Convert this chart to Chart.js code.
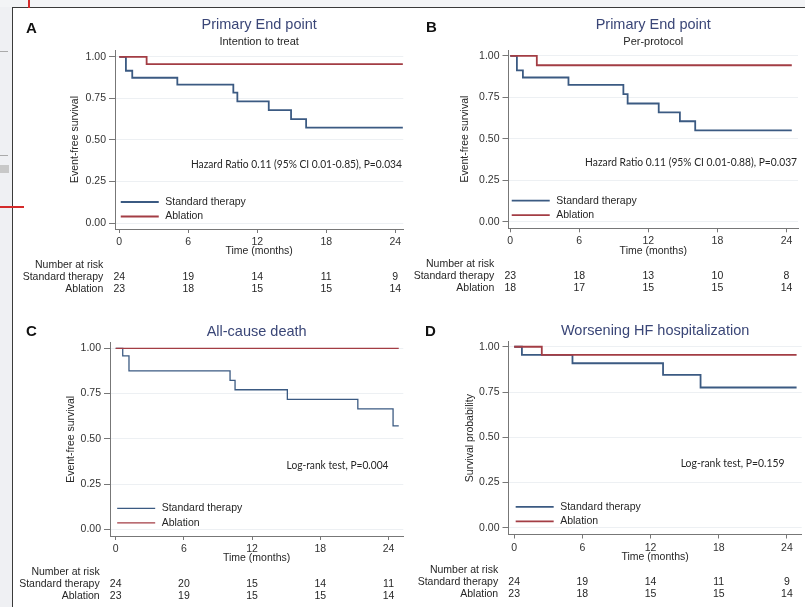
<!DOCTYPE html>
<html>
<head>
<meta charset="utf-8">
<script src="https://cdn.jsdelivr.net/npm/chart.js@4.4.1/dist/chart.umd.min.js"></script>
<style>
  body { margin: 0; background: #fff; width: 805px; height: 607px; overflow: hidden; position: relative; }
  canvas { position: absolute; left: 0; top: 0; }
  .deco { position: absolute; }
</style>
</head>
<body>
<!-- bits of the page the figure was cut from -->
<div class="deco" style="left:0;top:0;width:12px;height:607px;background:#eff0f3"></div>
<div class="deco" style="left:0;top:0;width:805px;height:7px;background:#f3f4f6"></div>
<div class="deco" style="left:12px;top:7px;width:793px;height:600px;border-left:1.5px solid #3a3a3a;border-top:1.5px solid #3a3a3a"></div>
<div class="deco" style="left:28px;top:0;width:2px;height:8px;background:#d42a2a"></div>
<div class="deco" style="left:0;top:206px;width:24px;height:1.5px;background:#d42a2a"></div>
<div class="deco" style="left:0;top:51px;width:8px;height:1px;background:#aaa"></div>
<div class="deco" style="left:0;top:155px;width:8px;height:1px;background:#aaa"></div>
<div class="deco" style="left:0;top:165px;width:9px;height:8px;background:#c8c8c8"></div>

<canvas id="cA" width="805" height="607"></canvas>
<canvas id="cB" width="805" height="607"></canvas>
<canvas id="cC" width="805" height="607"></canvas>
<canvas id="cD" width="805" height="607"></canvas>

<script>
// axis ticks
const months = [0, 6, 12, 18, 24];
const survTicks = [0, 0.25, 0.5, 0.75, 1];
const groups = ['Standard therapy', 'Ablation'];

// A - primary end point, intention to treat
const aStdTime = [0, 0.58, 1.13, 5.05, 9.92, 10.27, 13.0, 14.94, 16.25, 24.66];
const aStdSurv = [1, 0.917, 0.875, 0.833, 0.785, 0.733, 0.680, 0.626, 0.574, 0.574];
const aAblTime = [0, 2.38, 24.66];
const aAblSurv = [1, 0.957, 0.957];
const aRiskStd = [24, 19, 14, 11, 9];
const aRiskAbl = [23, 18, 15, 15, 14];

// B - primary end point, per-protocol
const bStdTime = [0, 0.58, 1.1, 5.06, 9.83, 10.2, 12.9, 14.74, 16.07, 24.46];
const bStdSurv = [1, 0.913, 0.870, 0.826, 0.770, 0.713, 0.660, 0.606, 0.551, 0.551];
const bAblTime = [0, 2.31, 24.46];
const bAblSurv = [1, 0.944, 0.944];
const bRiskStd = [23, 18, 13, 10, 8];
const bRiskAbl = [18, 17, 15, 15, 14];

// C - all-cause death
const cStdTime = [0, 0.62, 1.17, 10.06, 10.5, 15.1, 21.3, 24.4, 24.9];
const cStdSurv = [1, 0.958, 0.875, 0.823, 0.771, 0.718, 0.665, 0.571, 0.571];
const cAblTime = [0, 24.9];
const cAblSurv = [1, 1];
const cRiskStd = [24, 20, 15, 14, 11];
const cRiskAbl = [23, 19, 15, 15, 14];

// D - worsening HF hospitalization
const dStdTime = [0, 0.68, 5.13, 13.1, 16.4, 24.85];
const dStdSurv = [1, 0.955, 0.909, 0.845, 0.775, 0.775];
const dAblTime = [0, 2.43, 24.85];
const dAblSurv = [1, 0.955, 0.955];
const dRiskStd = [24, 19, 14, 11, 9];
const dRiskAbl = [23, 18, 15, 15, 14];

const BLUE = '#3b5a82';
const RED = '#a33d44';
const TITLE = '#3a4677';
const INK = '#262626';
const AXIS = '#777';
const FONT = '"Liberation Sans", Arial, sans-serif';

const panels = [
  { id: 'cA', letter: 'A', title: 'Primary End point', subtitle: 'Intention to treat',
    yTitle: 'Event-free survival', note: 'Hazard Ratio 0.11 (95% CI 0.01-0.85), P=0.034',
    std: [aStdTime, aStdSurv], abl: [aAblTime, aAblSurv], risk: [aRiskStd, aRiskAbl],
    box: { left: 115, right: 403.3, top: 50, bottom: 229 }, xr: [-0.37, 24.7], yr: [-0.036, 1.042],
    letterXY: [26, 29], titleY: 25, subY: 42, yTitleX: 75, noteX: 24.58, noteW: 211, lw: 1.8 },
  { id: 'cB', letter: 'B', title: 'Primary End point', subtitle: 'Per-protocol',
    yTitle: 'Event-free survival', note: 'Hazard Ratio 0.11 (95% CI 0.01-0.88), P=0.037',
    std: [bStdTime, bStdSurv], abl: [bAblTime, bAblSurv], risk: [bRiskStd, bRiskAbl],
    box: { left: 508.5, right: 798, top: 50, bottom: 228.3 }, xr: [-0.15, 25.0], yr: [-0.04, 1.036],
    letterXY: [426, 28], titleY: 25, subY: 42, yTitleX: 465, noteX: 24.92, noteW: 212, lw: 1.8 },
  { id: 'cC', letter: 'C', title: 'All-cause death', subtitle: null,
    yTitle: 'Event-free survival', note: 'Log-rank test, P=0.004',
    std: [cStdTime, cStdSurv], abl: [cAblTime, cAblSurv], risk: [cRiskStd, cRiskAbl],
    box: { left: 110, right: 403.3, top: 342.7, bottom: 536 }, xr: [-0.5, 25.3], yr: [-0.037, 1.031],
    letterXY: [26, 332], titleY: 331.5, subY: 0, yTitleX: 71, noteX: 24.0, noteW: 102, lw: 1.3 },
  { id: 'cD', letter: 'D', title: 'Worsening HF hospitalization', subtitle: null,
    yTitle: 'Survival probability', note: 'Log-rank test, P=0.159',
    std: [dStdTime, dStdSurv], abl: [dAblTime, dAblSurv], risk: [dRiskStd, dRiskAbl],
    box: { left: 508.5, right: 801.7, top: 341.7, bottom: 534.5 }, xr: [-0.5, 25.3], yr: [-0.037, 1.028],
    letterXY: [425, 331.5], titleY: 330.5, subY: 0, yTitleX: 470, noteX: 23.8, noteW: 104, lw: 1.8 }
];

function makeDecor(p) {
  return {
    id: 'decor',
    afterDraw(chart) {
      const ctx = chart.ctx, xs = chart.scales.x, ys = chart.scales.y, a = chart.chartArea;
      const cx = (a.left + a.right) / 2;
      ctx.save();
      ctx.textBaseline = 'middle';

      // panel letter
      ctx.fillStyle = '#111';
      ctx.font = 'bold 15px ' + FONT;
      ctx.textAlign = 'left';
      ctx.fillText(p.letter, p.letterXY[0], p.letterXY[1]);

      // titles
      ctx.textAlign = 'center';
      ctx.fillStyle = TITLE;
      ctx.font = '14.5px ' + FONT;
      ctx.fillText(p.title, cx, p.titleY);
      if (p.subtitle) {
        ctx.fillStyle = INK;
        ctx.font = '11px ' + FONT;
        ctx.fillText(p.subtitle, cx, p.subY);
      }

      // axis titles
      ctx.fillStyle = INK;
      ctx.font = '10.5px ' + FONT;
      ctx.fillText('Time (months)', cx, a.bottom + 22.5);
      ctx.save();
      ctx.translate(p.yTitleX, (a.top + a.bottom) / 2);
      ctx.rotate(-Math.PI / 2);
      ctx.fillText(p.yTitle, 0, 0);
      ctx.restore();

      // test result
      ctx.textAlign = 'right';
      ctx.font = '11px Lato, ' + FONT;
      ctx.fillText(p.note, xs.getPixelForValue(p.noteX), ys.getPixelForValue(0.355), p.noteW);

      // legend inside plot
      const x0 = xs.getPixelForValue(0);
      const y0 = ys.getPixelForValue(0);
      const cols = [BLUE, RED];
      ctx.font = '10.5px ' + FONT;
      ctx.textAlign = 'left';
      [-21, -6.5].forEach((dy, i) => {
        ctx.strokeStyle = cols[i];
        ctx.lineWidth = p.lw;
        ctx.beginPath();
        ctx.moveTo(x0 + 1.5, y0 + dy);
        ctx.lineTo(x0 + 39.5, y0 + dy);
        ctx.stroke();
        ctx.fillStyle = INK;
        ctx.fillText(groups[i], x0 + 46, y0 + dy);
      });

      // number at risk table
      ctx.textAlign = 'right';
      ctx.fillText('Number at risk', x0 - 16, a.bottom + 36);
      ctx.fillText(groups[0], x0 - 16, a.bottom + 48);
      ctx.fillText(groups[1], x0 - 16, a.bottom + 60);
      ctx.textAlign = 'center';
      months.forEach((m, i) => {
        const px = xs.getPixelForValue(m);
        ctx.fillText(String(p.risk[0][i]), px, a.bottom + 48);
        ctx.fillText(String(p.risk[1][i]), px, a.bottom + 60);
      });
      ctx.restore();
    }
  };
}

function toPoints(pair) {
  return pair[0].map((t, i) => ({ x: t, y: pair[1][i] }));
}

panels.forEach(p => {
  const b = p.box;
  new Chart(document.getElementById(p.id), {
    type: 'line',
    data: {
      datasets: [
        { label: groups[1], data: toPoints(p.abl), borderColor: RED, borderWidth: p.lw,
          stepped: 'before', pointRadius: 0, fill: false },
        { label: groups[0], data: toPoints(p.std), borderColor: BLUE, borderWidth: p.lw,
          stepped: 'before', pointRadius: 0, fill: false }
      ]
    },
    options: {
      responsive: false,
      animation: false,
      events: [],
      layout: { padding: { left: b.left - 40, right: 805 - b.right, top: b.top, bottom: 607 - b.bottom - 30 } },
      plugins: { legend: { display: false }, tooltip: { enabled: false }, title: { display: false } },
      scales: {
        x: {
          type: 'linear', min: p.xr[0], max: p.xr[1],
          afterFit: s => { s.height = 30; },
          afterBuildTicks: s => { s.ticks = months.map(v => ({ value: v })); },
          grid: { drawOnChartArea: false, tickLength: 4, color: AXIS },
          border: { color: AXIS, width: 1 },
          ticks: { color: '#333', font: { family: FONT, size: 10.5 }, padding: 3, maxRotation: 0, autoSkip: false }
        },
        y: {
          min: p.yr[0], max: p.yr[1],
          afterFit: s => { s.width = 40; },
          afterBuildTicks: s => { s.ticks = survTicks.map(v => ({ value: v })); },
          grid: { color: '#edf0f3', tickColor: AXIS, tickLength: 6 },
          border: { color: AXIS, width: 1 },
          ticks: { color: '#333', font: { family: FONT, size: 10.5 }, padding: 3,
                   callback: v => Number(v).toFixed(2) }
        }
      }
    },
    plugins: [makeDecor(p)]
  });
});
</script>
</body>
</html>
